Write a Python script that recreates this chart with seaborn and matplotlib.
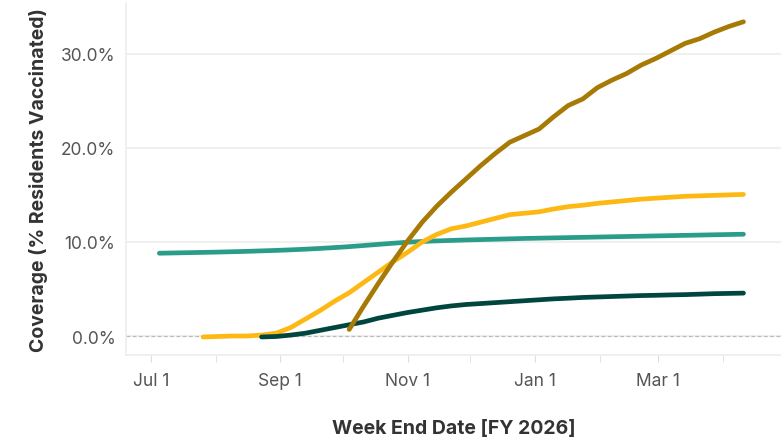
import matplotlib
matplotlib.use("Agg")
import matplotlib.dates as mdates
import matplotlib.pyplot as plt
import matplotlib.ticker as mticker
import pandas as pd
import seaborn as sns

# weekly coverage values (% residents vaccinated), week ending Saturdays
teal_start = "2025-07-05"
teal_values = [8.80, 8.83, 8.86, 8.89, 8.92, 8.96, 9.00, 9.05, 9.10, 9.16,
               9.23, 9.31, 9.40, 9.50, 9.62, 9.74, 9.86, 9.97, 10.05, 10.11,
               10.16, 10.21, 10.25, 10.29, 10.33, 10.37, 10.40, 10.43, 10.46, 10.49,
               10.52, 10.55, 10.58, 10.61, 10.64, 10.67, 10.70, 10.73, 10.76, 10.79,
               10.82]

yellow_start = "2025-07-26"
yellow_values = [-0.10, -0.05, 0.00, 0.00, 0.10, 0.30, 0.90, 1.80, 2.70, 3.70,
                 4.60, 5.70, 6.80, 7.90, 8.90, 10.00, 10.80, 11.40, 11.70, 12.10,
                 12.50, 12.90, 13.05, 13.20, 13.50, 13.75, 13.90, 14.10, 14.25, 14.40,
                 14.55, 14.65, 14.75, 14.85, 14.90, 14.95, 15.00, 15.05]

dark_start = "2025-08-23"
dark_values = [-0.10, -0.05, 0.10, 0.30, 0.60, 0.90, 1.20, 1.50, 1.90, 2.20,
               2.50, 2.75, 3.00, 3.20, 3.35, 3.45, 3.55, 3.65, 3.75, 3.85,
               3.95, 4.02, 4.10, 4.15, 4.20, 4.25, 4.30, 4.33, 4.37, 4.40,
               4.45, 4.50, 4.53, 4.56]

brown_start = "2025-10-04"
brown_values = [0.70, 3.20, 5.60, 7.90, 10.10, 12.10, 13.80, 15.30, 16.70, 18.10,
                19.40, 20.60, 21.30, 22.00, 23.30, 24.50, 25.20, 26.40, 27.20, 27.90,
                28.80, 29.50, 30.30, 31.10, 31.60, 32.30, 32.90, 33.40]

series = {
    "Series 1": (teal_start, teal_values),
    "Series 2": (yellow_start, yellow_values),
    "Series 3": (dark_start, dark_values),
    "Series 4": (brown_start, brown_values),
}
palette = {"Series 1": "#2a9d8a", "Series 2": "#fdb813",
           "Series 3": "#00463f", "Series 4": "#a67a05"}

frames = []
for name, (start, vals) in series.items():
    dates = pd.date_range(start, periods=len(vals), freq="7D")
    frames.append(pd.DataFrame({"week_end": dates, "coverage": vals, "series": name}))
df = pd.concat(frames, ignore_index=True)

sns.set_style("white")
plt.rcParams["font.family"] = ["Inter", "DejaVu Sans"]

fig = plt.figure(figsize=(7.81, 4.39), dpi=100)
ax = fig.add_axes([0.1613, 0.189, 0.8387, 0.802])

ax.axhline(0, color="#bbbbbb", lw=0.9, ls=(0, (3, 2)), zorder=1)
sns.lineplot(data=df, x="week_end", y="coverage", hue="series", palette=palette,
             linewidth=3.4, legend=False, ax=ax, zorder=3,
             solid_capstyle="round")

ax.set_xlim(pd.Timestamp("2025-06-19"), pd.Timestamp("2026-04-29"))
ax.set_ylim(-2.02, 35.4)
ax.set_yticks([0, 10, 20, 30])
ax.yaxis.set_major_formatter(mticker.PercentFormatter(decimals=1))
ax.yaxis.grid(True, color="#eeeeee", lw=1.2)
ax.set_axisbelow(True)

ax.xaxis.set_major_locator(mdates.MonthLocator(bymonth=[1, 3, 7, 9, 11]))
ax.xaxis.set_major_formatter(mdates.DateFormatter("%b %-d"))
ax.xaxis.set_minor_locator(mdates.MonthLocator(bymonth=[2, 4, 8, 10, 12]))

for side in ["top", "right"]:
    ax.spines[side].set_visible(False)
for side in ["left", "bottom"]:
    ax.spines[side].set_color("#eeeeee")
    ax.spines[side].set_linewidth(1.2)

ax.tick_params(axis="x", which="both", bottom=True, length=5, color="#dddddd",
               labelsize=12.5, labelcolor="#555555", pad=7)
ax.tick_params(axis="y", left=False, labelsize=12.5, labelcolor="#555555", pad=4)

ax.set_xlabel("Week End Date [FY 2026]", fontsize=14, fontweight="bold",
              color="#333333", labelpad=22)
ax.set_ylabel("Coverage (% Residents Vaccinated)", fontsize=14, fontweight="bold",
              color="#333333", labelpad=9)

fig.savefig("out.png", dpi=100)
